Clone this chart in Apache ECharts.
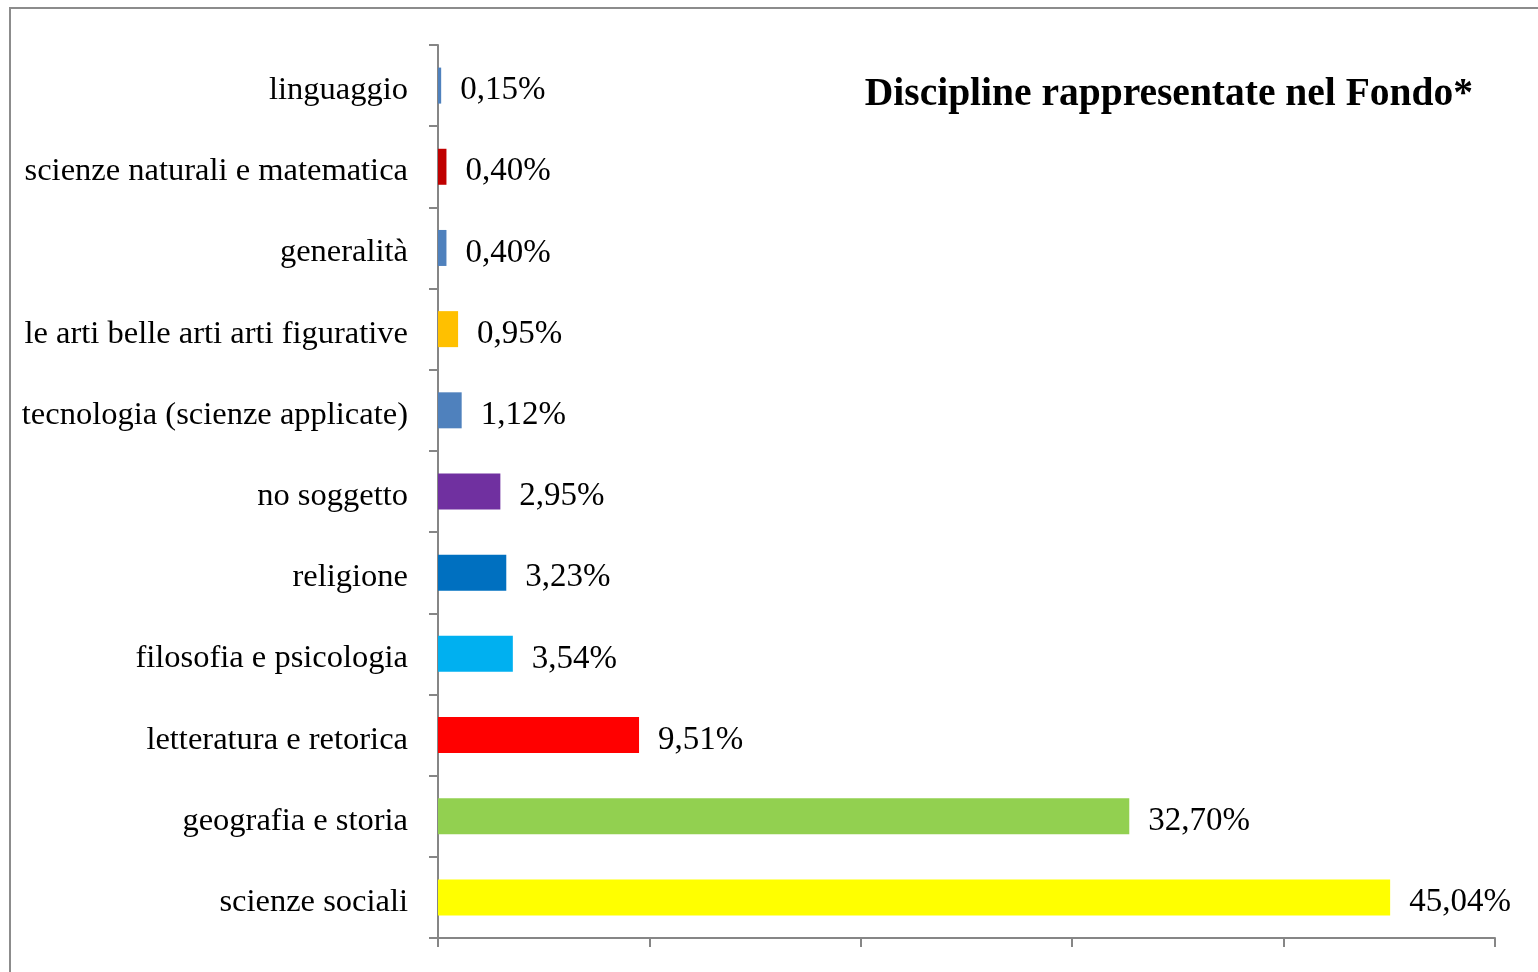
<!DOCTYPE html>
<html>
<head>
<meta charset="utf-8">
<script src="https://cdn.jsdelivr.net/npm/echarts@6/dist/echarts.min.js"></script>
<style>
  html, body { margin: 0; padding: 0; background: #fff; }
  #chart { width: 1538px; height: 972px; }
</style>
</head>
<body>
<div id="chart"></div>
<script>
// Disciplines, listed bottom to top as drawn on the category axis
const categories = [
  'scienze sociali',
  'geografia e storia',
  'letteratura e retorica',
  'filosofia e psicologia',
  'religione',
  'no soggetto',
  'tecnologia (scienze applicate)',
  'le arti belle arti arti figurative',
  'generalità',
  'scienze naturali e matematica',
  'linguaggio'
];
// Share of the collection, in percent
const shares = [45.04, 32.70, 9.51, 3.54, 3.23, 2.95, 1.12, 0.95, 0.40, 0.40, 0.15];
const barColors = [
  '#FFFF00', '#92D050', '#FF0000', '#00B0F0', '#0070C0',
  '#7030A0', '#4F81BD', '#FFC000', '#4F81BD', '#C00000', '#4F81BD'
];
const titleText = 'Discipline rappresentate nel Fondo*';

const serif = '"Liberation Serif", "Times New Roman", serif';
const axisGray = '#868686';

const chart = echarts.init(document.getElementById('chart'), null, { renderer: 'canvas' });

chart.setOption({
  backgroundColor: '#ffffff',
  animation: false,
  graphic: [
    {
      type: 'rect',
      shape: { x: 10, y: 8, width: 1560, height: 1000 },
      style: { fill: 'none', stroke: '#8c8c8c', lineWidth: 2 },
      silent: true
    },
    {
      type: 'text',
      right: 65,
      top: 75,
      style: {
        text: titleText,
        font: 'bold 39.5px ' + serif,
        fill: '#000'
      }
    }
  ],
  grid: { left: 438, right: 43, top: 45, bottom: 34, containLabel: false },
  xAxis: {
    type: 'value',
    min: 0,
    max: 50,
    interval: 10,
    axisLine: { show: true, lineStyle: { color: axisGray, width: 2 } },
    axisTick: { show: true, length: 9, lineStyle: { color: axisGray, width: 2 } },
    axisLabel: { show: false },
    splitLine: { show: false }
  },
  yAxis: {
    type: 'category',
    data: categories,
    axisLine: { show: true, lineStyle: { color: axisGray, width: 2 } },
    axisTick: { show: true, length: 9, lineStyle: { color: axisGray, width: 2 } },
    axisLabel: {
      margin: 30,
      formatter: v => '{t|' + v + '}',
      rich: {
        t: {
          color: '#000',
          fontFamily: serif,
          fontSize: 32.5,
          padding: [10, 0, 0, 0]
        }
      }
    },
    splitLine: { show: false }
  },
  series: [{
    type: 'bar',
    data: shares.map((v, i) => ({ value: v, itemStyle: { color: barColors[i] } })),
    barWidth: 36,
    label: {
      show: true,
      position: 'right',
      distance: 19,
      offset: [0, 5],
      color: '#000',
      fontFamily: serif,
      fontSize: 33,
      formatter: p => p.value.toFixed(2).replace('.', ',') + '%'
    }
  }]
});
</script>
</body>
</html>
